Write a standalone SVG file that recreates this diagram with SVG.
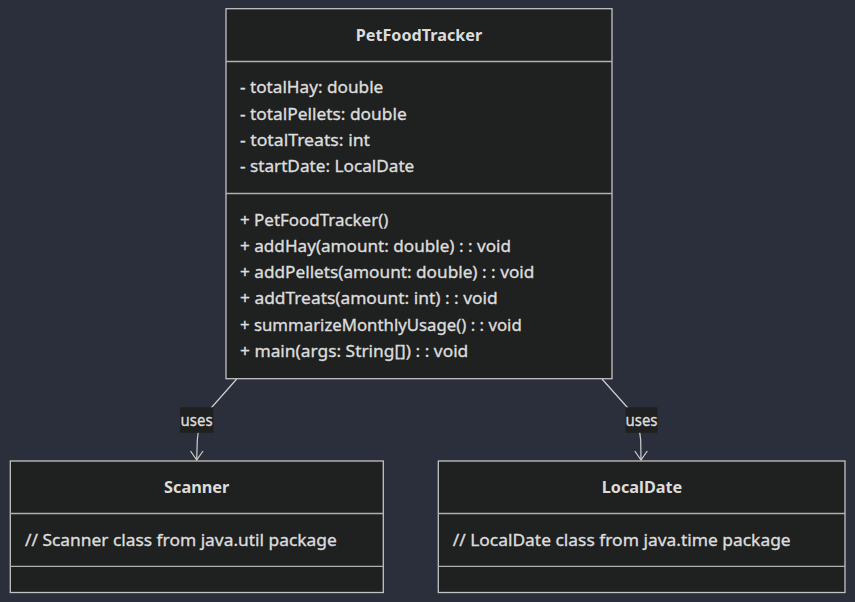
<svg xmlns="http://www.w3.org/2000/svg" width="855" height="602" viewBox="0 0 855 602">
<style>
.box{fill:#1f2020;stroke:#c3c3c3;stroke-width:1.3}
.div{stroke:#b0b0b0;stroke-width:1.3}
text{font-family:"Noto Sans","Open Sans","DejaVu Sans",sans-serif;font-size:16.5px;fill:#dcdcdc;stroke:#dcdcdc;stroke-width:0.35}
.t{font-weight:bold;text-anchor:middle;stroke-width:0}
.edge{fill:none;stroke:#cfcfcf;stroke-width:1.2}
.lbl{fill:#1f2020}
</style>
<rect width="855" height="602" fill="#2a2f3b"/>
<g id="connectors">
<path class="edge" d="M236.7,379 L212,407 Q197.5,423 197.3,440 L196.7,460"/>
<polyline class="edge" points="190.5,451 196.7,460 203,451"/>
<path class="edge" d="M602,379 L627,407 Q640,422 640.7,440 L641,460"/>
<polyline class="edge" points="634.8,451 641,460 647.3,451"/>
<rect class="lbl" x="180" y="407.3" width="33.3" height="25.5"/>
<text x="196.6" y="425.5" text-anchor="middle" textLength="32" lengthAdjust="spacingAndGlyphs">uses</text>
<rect class="lbl" x="625.5" y="407.3" width="32" height="25.5"/>
<text x="641.5" y="425.5" text-anchor="middle" textLength="32" lengthAdjust="spacingAndGlyphs">uses</text>
</g>
<g id="PetFoodTracker">
<rect class="box" x="226" y="8.7" width="386" height="370"/>
<line class="div" x1="226" y1="61.5" x2="612" y2="61.5"/>
<line class="div" x1="226" y1="193.5" x2="612" y2="193.5"/>
<text class="t" x="419" y="41" textLength="126.5" lengthAdjust="spacingAndGlyphs">PetFoodTracker</text>
<text x="240" y="93" textLength="143.3" lengthAdjust="spacingAndGlyphs">- totalHay: double</text>
<text x="240" y="119.5" textLength="166.7" lengthAdjust="spacingAndGlyphs">- totalPellets: double</text>
<text x="240" y="146" textLength="130" lengthAdjust="spacingAndGlyphs">- totalTreats: int</text>
<text x="240" y="172.3" textLength="174.3" lengthAdjust="spacingAndGlyphs">- startDate: LocalDate</text>
<text x="240" y="225.7" textLength="148.3" lengthAdjust="spacingAndGlyphs">+ PetFoodTracker()</text>
<text x="240" y="251.5" textLength="271" lengthAdjust="spacingAndGlyphs">+ addHay(amount: double) : : void</text>
<text x="240" y="277.8" textLength="294.3" lengthAdjust="spacingAndGlyphs">+ addPellets(amount: double) : : void</text>
<text x="240" y="304.2" textLength="257.7" lengthAdjust="spacingAndGlyphs">+ addTreats(amount: int) : : void</text>
<text x="240" y="330.7" textLength="281.7" lengthAdjust="spacingAndGlyphs">+ summarizeMonthlyUsage() : : void</text>
<text x="240" y="357.2" textLength="228.3" lengthAdjust="spacingAndGlyphs">+ main(args: String[]) : : void</text>
</g>
<g id="Scanner">
<rect class="box" x="10.3" y="461" width="373" height="131.5"/>
<line class="div" x1="10.3" y1="513.5" x2="383.3" y2="513.5"/>
<line class="div" x1="10.3" y1="566.3" x2="383.3" y2="566.3"/>
<text class="t" x="196.7" y="492.7" textLength="65.3" lengthAdjust="spacingAndGlyphs">Scanner</text>
<text x="25" y="545.7" textLength="311.7" lengthAdjust="spacingAndGlyphs">// Scanner class from java.util package</text>
</g>
<g id="LocalDate">
<rect class="box" x="438.3" y="461" width="406.7" height="131.5"/>
<line class="div" x1="438.3" y1="513.5" x2="845" y2="513.5"/>
<line class="div" x1="438.3" y1="566.3" x2="845" y2="566.3"/>
<text class="t" x="642" y="492.7" textLength="80.6" lengthAdjust="spacingAndGlyphs">LocalDate</text>
<text x="452.7" y="545.7" textLength="338" lengthAdjust="spacingAndGlyphs">// LocalDate class from java.time package</text>
</g>
</svg>
